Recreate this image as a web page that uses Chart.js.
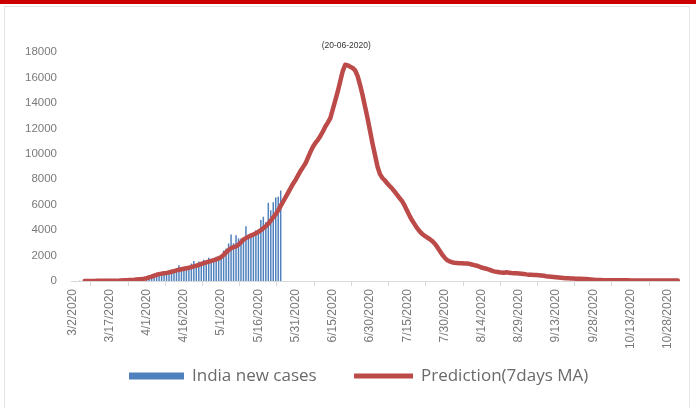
<!DOCTYPE html>
<html>
<head>
<meta charset="utf-8">
<script src="https://cdn.jsdelivr.net/npm/chart.js@4/dist/chart.umd.min.js"></script>
<style>
  html, body { margin: 0; padding: 0; background: #fff; }
  #topbar { position: absolute; left: 0; top: 0; width: 696px; height: 4px; background: #cc0000; }
  #frame { position: absolute; left: 4px; top: 6px; width: 686px; height: 402px; border: 1px solid #e4e4e4; border-bottom: none; box-sizing: border-box; }
  #mychart { position: absolute; left: 0; top: 0; }
</style>
</head>
<body>
<div id="topbar"></div>
<div id="frame"></div>
<canvas id="mychart" width="696" height="408"></canvas>
<script>
// daily categories, 3/2/2020 .. 11/1/2020
const firstDay = [2020, 2, 2];
const dayCount = 245;
const dateLabels = [];
for (let i = 0; i < dayCount; i++) {
  let d = new Date(firstDay[0], firstDay[1], firstDay[2] + i);
  dateLabels.push((d.getMonth() + 1) + '/' + d.getDate() + '/' + d.getFullYear());
}

// India new cases (bars), from 3/2/2020
const newCases = [
  0, 2, 1, 22, 2, 1, 3, 5, 9, 15,
  8, 10, 10, 12, 11, 20, 11, 15, 20, 58,
  78, 69, 94, 74, 86, 73, 153, 136, 120, 187,
  309, 424, 486, 560, 579, 609, 484, 573, 565, 813,
  871, 854, 758, 1243, 1031, 886, 1061, 922, 1371, 1580,
  1239, 1537, 1292, 1667, 1408, 1835, 1607, 1568, 1902, 1705,
  1801, 2396, 2564, 2952, 3656, 2971, 3602, 3344, 3339, 3175,
  4311, 3592, 3562, 3726, 3991, 3808, 4794, 5050, 4628, 6147,
  5553, 6198, 6568, 6629, 7111
];

// Prediction (7 days MA), from 3/2/2020
const prediction = [
  null, null, null, null, null,
  0, 0, 0, 0, 5, 10, 10, 10, 12, 12, 15, 15, 20, 25, 30, 40, 50, 60, 70, 80, 90, 110,
  130, 150, 180, 230, 290, 350, 420, 490, 540, 580, 610, 640, 680, 730, 780, 830, 880, 920,
  960, 1000, 1040, 1090, 1150, 1200, 1260, 1340, 1400, 1460, 1520, 1580, 1640, 1700, 1770, 1880,
  2050, 2250, 2430, 2580, 2660, 2720, 2850, 3050, 3250, 3380, 3480, 3580, 3650, 3750, 3860,
  4000, 4150, 4300, 4500, 4750, 5000, 5250, 5550, 5900, 6250, 6600, 6950, 7300, 7650, 7950,
  8300, 8650, 8950, 9250, 9700, 10150,
  10550, 10850, 11100, 11400, 11750, 12150, 12450, 12800, 13500, 14200, 14900, 15700, 16500, 17000,
  16950, 16850, 16750, 16550, 16100, 15400, 14600, 13700, 12800, 11800, 10800, 9900, 9000, 8400, 8100,
  7900, 7650, 7450, 7250, 7000, 6750, 6500, 6250, 5900, 5500, 5100, 4750, 4450, 4150, 3900,
  3700, 3550, 3420, 3300, 3150, 2950, 2700, 2400, 2100, 1850, 1650, 1550, 1480, 1440, 1420,
  1400, 1390, 1380, 1370, 1350, 1300, 1250, 1200, 1130, 1060, 1000, 960, 900, 820, 760,
  720, 690, 660, 640, 690, 640, 620, 610, 600, 590,
  570, 550, 520, 500, 490, 480, 470, 460, 440, 410, 380, 360, 340, 320, 300, 280,
  260, 240, 220, 210, 200, 190, 180, 175, 170, 165, 160, 140, 120, 100, 80,
  75, 70, 68, 65, 62, 60, 58, 56, 55, 54, 52, 50, 50, 48, 47, 46, 45, 44, 43, 42,
  41, 40, 40, 39, 38, 37, 36, 35, 34, 33, 32, 31, 30
];

const yTicks = [0, 2000, 4000, 6000, 8000, 10000, 12000, 14000, 16000, 18000];
const peakDate = '6/20/2020';
const peakText = '(20-06-2020)';
const seriesNames = ['India new cases', 'Prediction(7days MA)'];

const barBlue = '#4f81bd';
const lineRed = '#bb4a48';
const textGray = '#7a7a7a';

const peakLabel = {
  id: 'peakLabel',
  afterDatasetsDraw(chart) {
    let ctx = chart.ctx;
    let idx = dateLabels.indexOf(peakDate);
    let x = chart.scales.x.getPixelForValue(idx);
    let y = chart.scales.y.getPixelForValue(prediction[idx]);
    ctx.save();
    ctx.font = '8.5px "Liberation Sans"';
    ctx.fillStyle = '#333333';
    ctx.textAlign = 'center';
    ctx.textBaseline = 'middle';
    ctx.fillText(peakText, x + 1, y - 19);
    ctx.restore();
  }
};

// legend drawn by hand, excel style (long swatches)
const excelLegend = {
  id: 'excelLegend',
  afterDraw(chart) {
    let ctx = chart.ctx;
    let spots = [{x: 129, w: 55, h: 7}, {x: 354, w: 59, h: 5}];
    ctx.save();
    ctx.font = '17px "Open Sans"';
    ctx.textBaseline = 'middle';
    chart.data.datasets.forEach(function(ds, i) {
      let s = spots[i];
      let cy = 376;
      ctx.fillStyle = ds.type === 'line' ? ds.borderColor : ds.backgroundColor;
      ctx.fillRect(s.x, cy - s.h / 2, s.w, s.h);
      ctx.fillStyle = '#6a6a6a';
      ctx.fillText(ds.label, s.x + s.w + 8, cy);
    });
    ctx.restore();
  }
};

const config = {
  type: 'bar',
  data: {
    labels: dateLabels,
    datasets: [
      {
        label: seriesNames[0],
        data: newCases,
        backgroundColor: barBlue,
        barPercentage: 0.6,
        categoryPercentage: 1.0,
        order: 1,
      },
      {
        type: 'line',
        label: seriesNames[1],
        data: prediction,
        borderColor: lineRed,
        backgroundColor: lineRed,
        borderWidth: 4.5,
        pointRadius: 0,
        tension: 0,
        borderJoinStyle: 'round',
        borderCapStyle: 'round',
        order: 0,
      }
    ]
  },
  options: {
    responsive: false,
    animation: false,
    layout: { padding: { top: 52, left: 0, right: 17, bottom: 50 } },
    plugins: {
      legend: { display: false },
      tooltip: { enabled: false },
    },
    scales: {
      x: {
        grid: { display: true, drawOnChartArea: false, drawTicks: true, tickLength: 5, color: '#d9d9d9' },
        border: { display: true, color: '#d9d9d9' },
        ticks: {
          autoSkip: false,
          minRotation: 90,
          maxRotation: 90,
          padding: 3,
          color: textGray,
          font: { family: 'Liberation Sans', size: 12 },
          callback: function(value, index) {
            return index % 15 === 0 ? this.getLabelForValue(value) : null;
          }
        },
        afterFit: function(scale) { scale.height = 77; }
      },
      y: {
        min: 0,
        max: yTicks[yTicks.length - 1],
        grid: { display: false, drawTicks: false },
        border: { display: false },
        afterBuildTicks: function(scale) { scale.ticks = yTicks.map(v => ({ value: v })); },
        ticks: {
          padding: 14,
          color: textGray,
          font: { family: 'Liberation Sans', size: 11.5 },
          callback: v => String(v)
        },
        afterFit: function(scale) { scale.width = 71; }
      }
    }
  },
  plugins: [peakLabel, excelLegend]
};

var myChart = new Chart(document.getElementById('mychart'), config);
</script>
</body>
</html>
